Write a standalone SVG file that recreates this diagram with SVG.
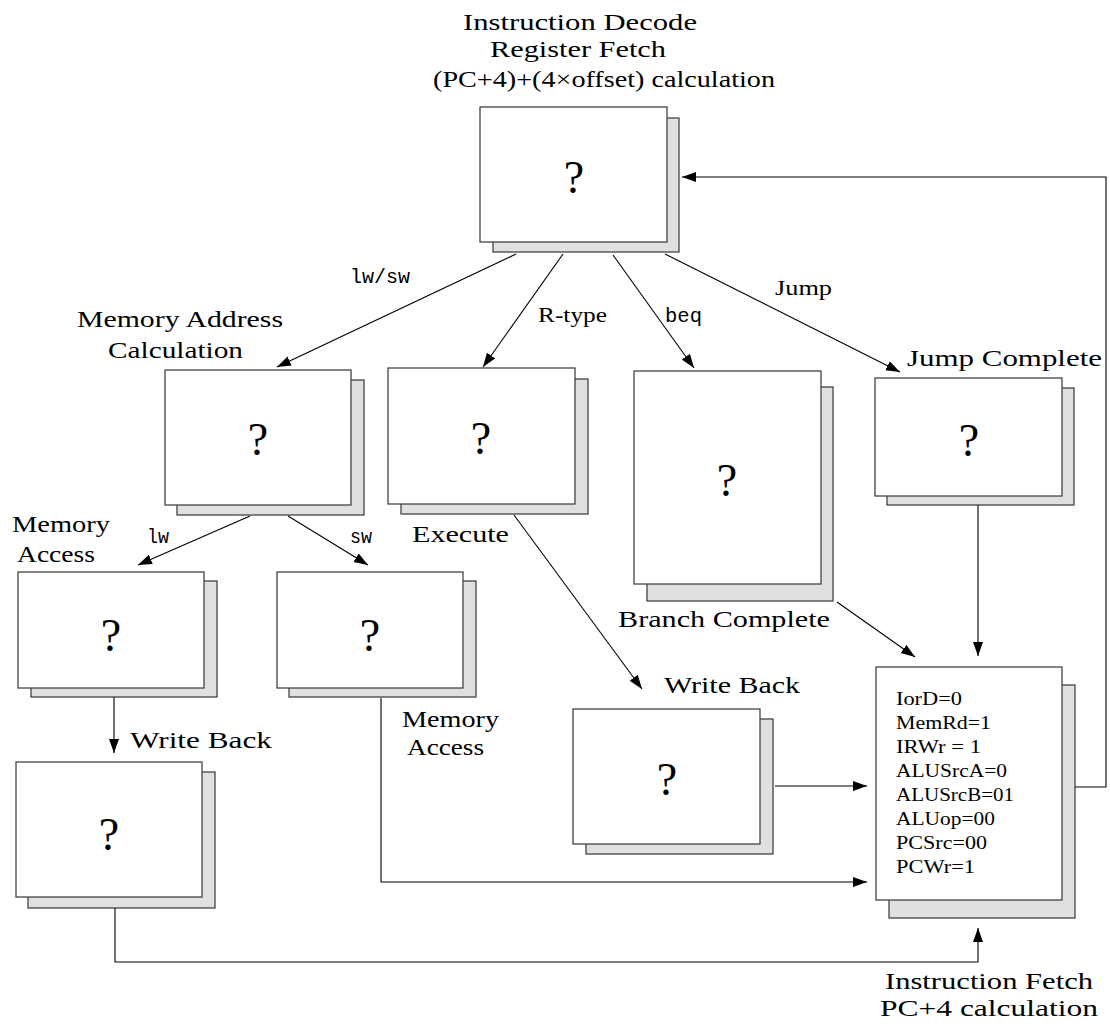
<svg xmlns="http://www.w3.org/2000/svg" width="1110" height="1036" viewBox="0 0 1110 1036">
<style>
.bg{fill:#ffffff}
.sh{fill:#e0e0e0;stroke:#444;stroke-width:1.3}
.fr{fill:#ffffff;stroke:#444;stroke-width:1.3}
.q{font-family:"Liberation Serif",serif;font-size:46px;fill:#000;text-anchor:middle}
.lb{font-family:"Liberation Serif",serif;font-size:24px;fill:#000}
.el{font-family:"Liberation Serif",serif;font-size:20px;fill:#000}
.tt{font-family:"Liberation Mono",monospace;font-size:20px;fill:#000}
.ct{font-family:"Liberation Serif",serif;font-size:18px;fill:#000}
.cn{fill:none;stroke:#000;stroke-width:1.1}
</style>
<defs>
<marker id="ah" markerUnits="userSpaceOnUse" markerWidth="15" markerHeight="11" refX="14" refY="5" orient="auto">
<path d="M0,0 L14,5 L0,10 z" fill="#000"/>
</marker>
</defs>
<rect class="bg" x="0" y="0" width="1110" height="1036"/>

<g id="node-decode">
<text class="lb" x="463" y="30" textLength="234" lengthAdjust="spacingAndGlyphs">Instruction Decode</text>
<text class="lb" x="490" y="57" textLength="176" lengthAdjust="spacingAndGlyphs">Register Fetch</text>
<text class="lb" x="433" y="87" textLength="342" lengthAdjust="spacingAndGlyphs">(PC+4)+(4×offset) calculation</text>
<rect class="sh" x="493" y="118" width="186" height="134"/>
<rect class="fr" x="480" y="107" width="187" height="135"/>
<text class="q" x="574" y="193">?</text>
</g>

<g id="node-memaddr">
<text class="lb" x="77" y="327" textLength="206" lengthAdjust="spacingAndGlyphs">Memory Address</text>
<text class="lb" x="108" y="358" textLength="135" lengthAdjust="spacingAndGlyphs">Calculation</text>
<rect class="sh" x="177" y="380" width="187" height="135"/>
<rect class="fr" x="165" y="370" width="186" height="135"/>
<text class="q" x="258" y="455">?</text>
</g>

<g id="node-execute">
<rect class="sh" x="401" y="379" width="187" height="135"/>
<rect class="fr" x="388" y="368" width="187" height="136"/>
<text class="q" x="481" y="454">?</text>
<text class="lb" x="412" y="542" textLength="97" lengthAdjust="spacingAndGlyphs">Execute</text>
</g>

<g id="node-branch">
<rect class="sh" x="647" y="387" width="186" height="214"/>
<rect class="fr" x="634" y="371" width="187" height="213"/>
<text class="q" x="727" y="496">?</text>
<text class="lb" x="618" y="627" textLength="212" lengthAdjust="spacingAndGlyphs">Branch Complete</text>
</g>

<g id="node-jump">
<text class="lb" x="907" y="366" textLength="195" lengthAdjust="spacingAndGlyphs">Jump Complete</text>
<rect class="sh" x="887" y="388" width="187" height="117"/>
<rect class="fr" x="875" y="378" width="187" height="118"/>
<text class="q" x="969" y="456">?</text>
</g>

<g id="node-memaccess-lw">
<text class="lb" x="12" y="532" textLength="98" lengthAdjust="spacingAndGlyphs">Memory</text>
<text class="lb" x="17" y="562" textLength="78" lengthAdjust="spacingAndGlyphs">Access</text>
<rect class="sh" x="31" y="581" width="186" height="116"/>
<rect class="fr" x="18" y="572" width="186" height="116"/>
<text class="q" x="111" y="651">?</text>
</g>

<g id="node-memaccess-sw">
<rect class="sh" x="289" y="581" width="187" height="116"/>
<rect class="fr" x="277" y="572" width="186" height="116"/>
<text class="q" x="370" y="651">?</text>
<text class="lb" x="402" y="727" textLength="97" lengthAdjust="spacingAndGlyphs">Memory</text>
<text class="lb" x="407" y="755" textLength="77" lengthAdjust="spacingAndGlyphs">Access</text>
</g>

<g id="node-writeback-lw">
<text class="lb" x="130" y="748" textLength="142" lengthAdjust="spacingAndGlyphs">Write Back</text>
<rect class="sh" x="28" y="772" width="187" height="136"/>
<rect class="fr" x="16" y="762" width="186" height="135"/>
<text class="q" x="109" y="850">?</text>
</g>

<g id="node-writeback-r">
<text class="lb" x="664" y="693" textLength="136" lengthAdjust="spacingAndGlyphs">Write Back</text>
<rect class="sh" x="586" y="719" width="187" height="135"/>
<rect class="fr" x="573" y="709" width="187" height="135"/>
<text class="q" x="667" y="795">?</text>
</g>

<g id="node-fetch">
<rect class="sh" x="889" y="685" width="186" height="233"/>
<rect class="fr" x="876" y="667" width="186" height="233"/>
<text class="ct" x="896" y="705" textLength="66" lengthAdjust="spacingAndGlyphs">IorD=0</text>
<text class="ct" x="896" y="729" textLength="95" lengthAdjust="spacingAndGlyphs">MemRd=1</text>
<text class="ct" x="896" y="753" textLength="85" lengthAdjust="spacingAndGlyphs">IRWr = 1</text>
<text class="ct" x="896" y="777" textLength="111" lengthAdjust="spacingAndGlyphs">ALUSrcA=0</text>
<text class="ct" x="896" y="801" textLength="118" lengthAdjust="spacingAndGlyphs">ALUSrcB=01</text>
<text class="ct" x="896" y="825" textLength="99" lengthAdjust="spacingAndGlyphs">ALUop=00</text>
<text class="ct" x="896" y="849" textLength="91" lengthAdjust="spacingAndGlyphs">PCSrc=00</text>
<text class="ct" x="896" y="873" textLength="79" lengthAdjust="spacingAndGlyphs">PCWr=1</text>
<text class="lb" x="885" y="989" textLength="208" lengthAdjust="spacingAndGlyphs">Instruction Fetch</text>
<text class="lb" x="880" y="1016" textLength="218" lengthAdjust="spacingAndGlyphs">PC+4 calculation</text>
</g>

<g id="connectors">
<path class="cn" marker-end="url(#ah)" d="M516,254 L277,367"/>
<path class="cn" marker-end="url(#ah)" d="M563,254 L483,367"/>
<path class="cn" marker-end="url(#ah)" d="M613,255 L694,368"/>
<path class="cn" marker-end="url(#ah)" d="M665,254 L900,372"/>
<path class="cn" marker-end="url(#ah)" d="M250,516 L138,565"/>
<path class="cn" marker-end="url(#ah)" d="M288,516 L368,565"/>
<path class="cn" marker-end="url(#ah)" d="M114,697 L114,753"/>
<path class="cn" marker-end="url(#ah)" d="M514,515 L642,689"/>
<path class="cn" marker-end="url(#ah)" d="M837,602 L915,657"/>
<path class="cn" marker-end="url(#ah)" d="M978,505 L978,656"/>
<path class="cn" marker-end="url(#ah)" d="M775,786 L867,786"/>
<path class="cn" marker-end="url(#ah)" d="M381,698 L381,882 L867,882"/>
<path class="cn" marker-end="url(#ah)" d="M115,908 L115,962 L978,962 L978,928"/>
<path class="cn" marker-end="url(#ah)" d="M1075,787 L1106,787 L1106,177 L682,177"/>
<text class="tt" x="350" y="283" textLength="60" lengthAdjust="spacingAndGlyphs">lw/sw</text>
<text class="el" x="538" y="322" textLength="69" lengthAdjust="spacingAndGlyphs">R-type</text>
<text class="tt" x="665" y="322" textLength="37" lengthAdjust="spacingAndGlyphs">beq</text>
<text class="el" x="775" y="295" textLength="57" lengthAdjust="spacingAndGlyphs">Jump</text>
<text class="tt" x="147" y="543" textLength="22" lengthAdjust="spacingAndGlyphs">lw</text>
<text class="tt" x="350" y="543" textLength="22" lengthAdjust="spacingAndGlyphs">sw</text>
</g>
</svg>
